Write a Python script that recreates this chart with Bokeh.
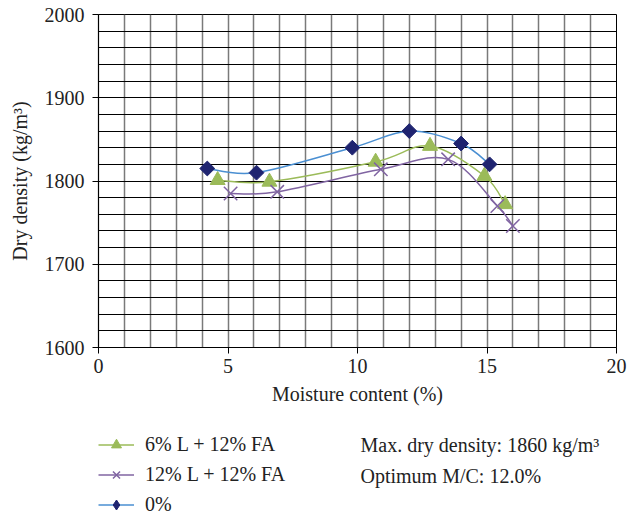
import math
from bokeh.plotting import figure
from bokeh.layouts import column
from bokeh.models import (FixedTicker, Range1d, Legend, LegendItem, Label, ColumnDataSource)
from bokeh.embed import file_html
from bokeh.resources import INLINE

# ---- data ----
mc_0 = [4.2, 6.1, 9.8, 12.0, 14.0, 15.1]
dd_0 = [1815, 1810, 1840, 1860, 1845, 1820]

mc_6 = [4.6, 6.6, 10.7, 12.8, 14.9, 15.7]
dd_6 = [1801, 1799, 1823, 1842, 1806, 1772]

mc_12 = [5.1, 6.9, 10.9, 13.5, 15.4, 16.0]
dd_12 = [1785, 1787, 1814, 1826, 1770, 1746]

series_names = ["6% L + 12% FA", "12% L + 12% FA", "0%"]
x_ticks = [0, 5, 10, 15, 20]
y_ticks = [1600, 1700, 1800, 1900, 2000]
x_grid = list(range(0, 21))
y_grid = list(range(1600, 2001, 20))

max_dd_text = "Max. dry density: 1860 kg/m³"
opt_mc_text = "Optimum M/C: 12.0%"

FONT = "Liberation Serif"
FS = "20px"
TXT = "#222222"

p = figure(width=631, height=410, output_backend="svg", toolbar_location=None,
           x_range=Range1d(0, 20), y_range=Range1d(1600, 2000),
           min_border_left=98, min_border_right=15, min_border_top=14, min_border_bottom=63)
p.outline_line_color = "black"

p.xaxis.ticker = FixedTicker(ticks=x_ticks)
p.yaxis.ticker = FixedTicker(ticks=y_ticks)
p.xgrid.ticker = FixedTicker(ticks=x_grid)
p.ygrid.ticker = FixedTicker(ticks=y_grid)
p.xgrid.grid_line_color = "#7a7a7a"
p.ygrid.grid_line_color = "black"
p.xgrid.grid_line_width = 1.5
p.ygrid.grid_line_width = 1.1

for ax in (p.xaxis, p.yaxis):
    ax.axis_line_color = "black"
    ax.axis_line_width = 1.2
    ax.major_tick_line_color = "black"
    ax.major_tick_out = 6
    ax.major_tick_in = 0
    ax.minor_tick_line_color = None
    ax.major_label_text_font = FONT
    ax.major_label_text_font_size = FS
    ax.major_label_text_color = TXT
    ax.axis_label_text_font = FONT
    ax.axis_label_text_font_size = FS
    ax.axis_label_text_font_style = "normal"
    ax.axis_label_text_color = TXT

p.xaxis.axis_label = "Moisture content (%)"
p.yaxis.axis_label = "Dry density (kg/m³)"
p.xaxis.major_label_standoff = 5
p.yaxis.major_label_standoff = 8
p.xaxis.axis_label_standoff = 7
p.yaxis.axis_label_standoff = 11


def smooth_segments(xs, ys):
    """Excel-style smoothed line: cubic Bezier segments through the points."""
    n = len(xs)
    seg = dict(x0=[], y0=[], x1=[], y1=[], cx0=[], cy0=[], cx1=[], cy1=[])
    for i in range(n - 1):
        xp, yp = (xs[i - 1], ys[i - 1]) if i > 0 else (xs[i], ys[i])
        xn, yn = (xs[i + 2], ys[i + 2]) if i + 2 < n else (xs[i + 1], ys[i + 1])
        seg["x0"].append(xs[i]); seg["y0"].append(ys[i])
        seg["x1"].append(xs[i + 1]); seg["y1"].append(ys[i + 1])
        seg["cx0"].append(xs[i] + (xs[i + 1] - xp) / 6)
        seg["cy0"].append(ys[i] + (ys[i + 1] - yp) / 6)
        seg["cx1"].append(xs[i + 1] - (xn - xs[i]) / 6)
        seg["cy1"].append(ys[i + 1] - (yn - ys[i]) / 6)
    return ColumnDataSource(seg)


# (x, y, line colour, marker, legend marker, marker colour, size, angle)
styles = [
    (mc_6, dd_6, "#9bbb59", "triangle", "triangle", "#9bbb59", 15, 0),
    (mc_12, dd_12, "#8064a2", "x", "x", "#8064a2", 19, 0),
    (mc_0, dd_0, "#4a8fd2", "square", "diamond", "#1f2470", 10.5, math.pi / 4),
]


def add_points(fig, xs, ys, mk, mc, sz, ang):
    if mk == "x":
        return fig.scatter(xs, ys, marker=mk, size=sz, line_color=mc, line_width=1.5)
    return fig.scatter(xs, ys, marker=mk, size=sz, angle=ang, fill_color=mc,
                       line_color=mc, line_width=1)


for xs, ys, lc, mk, lmk, mc, sz, ang in styles:
    p.bezier(x0="x0", y0="y0", x1="x1", y1="y1", cx0="cx0", cy0="cy0",
             cx1="cx1", cy1="cy1", source=smooth_segments(xs, ys),
             line_color=lc, line_width=1.5)
    add_points(p, xs, ys, mk, mc, sz, ang)

# ---- bottom strip: legend and notes (its frame is aligned with the plot frame) ----
q = figure(width=631, height=107, output_backend="svg", toolbar_location=None,
           x_range=Range1d(100, 101), y_range=Range1d(0, 1),
           min_border_left=0, min_border_right=0, min_border_top=0, min_border_bottom=0)
q.axis.visible = False
q.grid.visible = False
q.outline_line_color = None

legend_items = []
for name, (xs, ys, lc, mk, lmk, mc, sz, ang) in zip(series_names, styles):
    ln = q.line(xs, ys, line_color=lc, line_width=1.5)
    pts = add_points(q, xs, ys, lmk, mc, sz, 0)
    legend_items.append(LegendItem(label=name, renderers=[ln, pts]))

legend = Legend(items=legend_items, location=(0, 0))
legend.label_text_font = FONT
legend.label_text_font_size = FS
legend.label_text_color = TXT
legend.glyph_width = 36
legend.glyph_height = 25
legend.label_height = 22
legend.spacing = 5
legend.padding = 0
legend.margin = 0
legend.label_standoff = 11
legend.border_line_color = None
legend.background_fill_alpha = 0
q.add_layout(legend)

for txt, yoff in ((max_dd_text, 73), (opt_mc_text, 42)):
    q.add_layout(Label(x=262, y=yoff, x_units="screen", y_units="screen", text=txt,
                       text_font=FONT, text_font_size=FS, text_color=TXT,
                       text_baseline="middle"))

open("out.html", "w").write(file_html(column(p, q, spacing=0), INLINE))
